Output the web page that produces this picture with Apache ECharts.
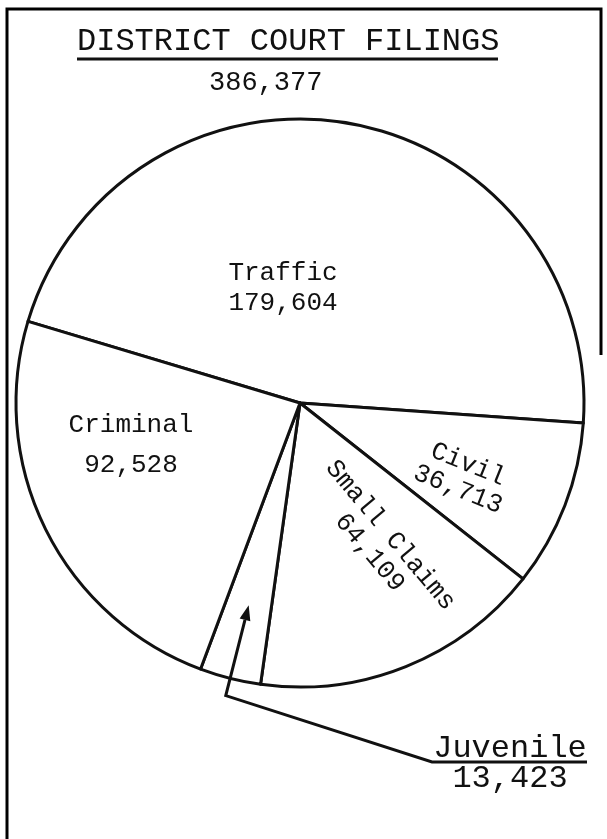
<!DOCTYPE html>
<html>
<head>
<meta charset="utf-8">
<script src="https://cdn.jsdelivr.net/npm/echarts@6/dist/echarts.min.js"></script>
<style>
  html, body { margin: 0; padding: 0; background: #fff; }
  #chart { width: 607px; height: 839px; }
</style>
</head>
<body>
<div id="chart"></div>
<script>
// District court filings by case type
const categories = ['Traffic', 'Civil', 'Small Claims', 'Juvenile', 'Criminal'];
const filings = [179604, 36713, 64109, 13423, 92528];
const chartTitle = 'DISTRICT COURT FILINGS';

// Label placement (block centre, rotation, line spacing) per category
const labelAnchors = [[283, 288], [463, 477], [380, 544], null, [131, 445]];
const labelRotations = [0, -22, -50, 0, 0];
const labelLineHeights = [30, 27, 27, 30, 40];

const INK = '#111111';
const FONT = 'Liberation Mono';
const PIE_CENTER = [300, 403];
const PIE_RADIUS = 284;
const START_ANGLE = 163.3;

const fmt = v => v.toLocaleString('en-US');
const total = filings.reduce((a, b) => a + b, 0);

const chart = echarts.init(document.getElementById('chart'), null, { renderer: 'canvas' });

const pieData = categories.map((name, i) => ({
  name,
  value: filings[i],
  label: {
    show: name !== 'Juvenile',
    rotate: labelRotations[i],
    lineHeight: labelLineHeights[i]
  }
}));

// Leader for the small Juvenile slice: arrow along the slice's mid-angle
function juvenileGraphics() {
  const idx = categories.indexOf('Juvenile');
  let cum = 0;
  for (let i = 0; i < idx; i++) cum += filings[i];
  const midDeg = START_ANGLE - 360 * (cum + filings[idx] / 2) / total;
  const a = midDeg * Math.PI / 180;
  const ux = Math.cos(a), uy = -Math.sin(a);
  const px = -uy, py = ux;
  const at = f => [PIE_CENTER[0] + PIE_RADIUS * f * ux, PIE_CENTER[1] + PIE_RADIUS * f * uy];
  const tip = at(0.735);
  const base = at(0.735 + 15 / PIE_RADIUS);
  const bend = at(1.063);
  const ulLeft = [432, 762], ulRight = [587, 762];
  return [
    {
      type: 'polyline',
      shape: { points: [base, bend, ulLeft, ulRight] },
      style: { stroke: INK, lineWidth: 3, fill: null, lineJoin: 'miter' },
      z: 10
    },
    {
      type: 'polygon',
      shape: { points: [tip, [base[0] + px * 5.5, base[1] + py * 5.5], [base[0] - px * 5.5, base[1] - py * 5.5]] },
      style: { fill: INK },
      z: 10
    },
    {
      type: 'text',
      x: 510, y: 749,
      style: { text: categories[idx], font: '32px "' + FONT + '"', fill: INK, align: 'center', verticalAlign: 'middle' },
      z: 10
    },
    {
      type: 'text',
      x: 510, y: 779,
      style: { text: fmt(filings[idx]), font: '32px "' + FONT + '"', fill: INK, align: 'center', verticalAlign: 'middle' },
      z: 10
    }
  ];
}

const option = {
  backgroundColor: '#ffffff',
  animation: false,
  title: [
    {
      text: chartTitle,
      left: 77, top: 26, padding: 0,
      textStyle: { fontFamily: FONT, fontSize: 32, fontWeight: 'normal', color: INK }
    },
    {
      text: fmt(total),
      left: 209, top: 69, padding: 0,
      textStyle: { fontFamily: FONT, fontSize: 27, fontWeight: 'normal', color: INK }
    }
  ],
  graphic: [
    // page frame (open at the bottom)
    {
      type: 'polyline',
      shape: { points: [[7, 839], [7, 9], [601, 9], [601, 355]] },
      style: { stroke: '#000', lineWidth: 3, fill: null }
    },
    // title underline
    {
      type: 'line',
      shape: { x1: 77, y1: 59, x2: 498, y2: 59 },
      style: { stroke: INK, lineWidth: 3 }
    },
    ...juvenileGraphics()
  ],
  series: [
    {
      type: 'pie',
      center: PIE_CENTER,
      radius: [0, PIE_RADIUS],
      startAngle: START_ANGLE,
      clockwise: true,
      avoidLabelOverlap: false,
      silent: true,
      emphasis: { disabled: true },
      itemStyle: { color: '#ffffff', borderColor: INK, borderWidth: 3 },
      label: {
        show: true,
        position: 'inside',
        formatter: p => p.name + '\n' + fmt(p.value),
        fontFamily: FONT,
        fontSize: 26,
        color: INK,
        align: 'center',
        verticalAlign: 'middle'
      },
      labelLine: { show: false },
      labelLayout: params => {
        const anchor = labelAnchors[params.dataIndex];
        return anchor ? { x: anchor[0], y: anchor[1] } : {};
      },
      data: pieData
    }
  ]
};

chart.setOption(option);
</script>
</body>
</html>
